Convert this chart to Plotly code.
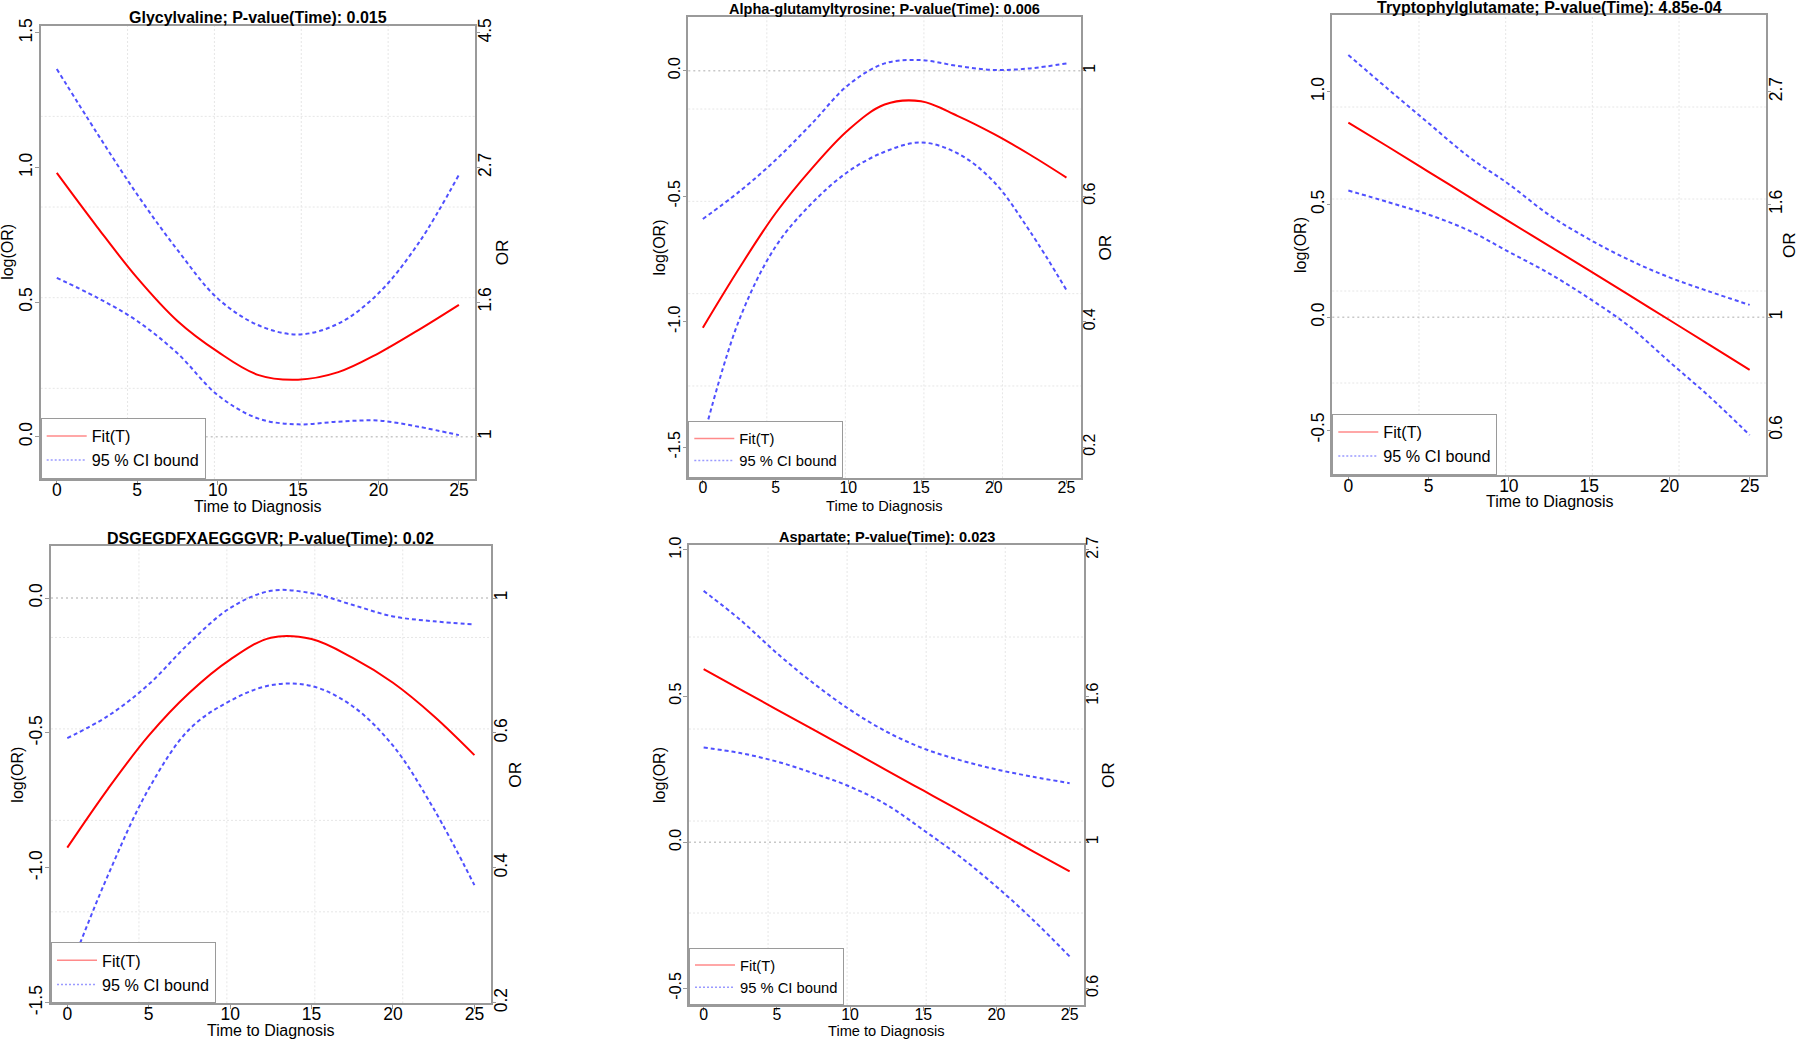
import plotly.graph_objects as go

W, H = 1800, 1047
FONT = "Liberation Sans, Arial, Helvetica, sans-serif"
GRAY = "#9a9a9a"
RED = "#ff0000"
BLUE = "rgb(80,80,255)"

# time grid shared by all curves
time_to_diagnosis = [0, 2.5, 5, 7.5, 10, 12.5, 15, 17.5, 20, 22.5, 25]
x_ticks = [0, 5, 10, 15, 20, 25]

titles = [
    "Glycylvaline; P-value(Time): 0.015",
    "Alpha-glutamyltyrosine; P-value(Time): 0.006",
    "Tryptophylglutamate; P-value(Time): 4.85e-04",
    "DSGEGDFXAEGGGVR; P-value(Time): 0.02",
    "Aspartate; P-value(Time): 0.023",
]

# log(OR) estimates
fit_glycylvaline = [0.98, 0.78, 0.59, 0.43, 0.316, 0.23, 0.212, 0.24, 0.31, 0.397, 0.49]
upper_glycylvaline = [1.366, 1.128, 0.90, 0.694, 0.514, 0.415, 0.38, 0.42, 0.533, 0.72, 0.973]
lower_glycylvaline = [0.59, 0.517, 0.43, 0.31, 0.155, 0.068, 0.046, 0.056, 0.06, 0.037, 0.006]

fit_glutamyltyrosine = [-1.024, -0.787, -0.568, -0.389, -0.236, -0.135, -0.122, -0.18, -0.252, -0.335, -0.426]
upper_glutamyltyrosine = [-0.591, -0.482, -0.356, -0.21, -0.057, 0.029, 0.042, 0.019, 0.003, 0.009, 0.029]
lower_glutamyltyrosine = [-1.47, -0.993, -0.701, -0.528, -0.402, -0.323, -0.286, -0.329, -0.442, -0.641, -0.874]

fit_tryptophylglutamate = [0.863, 0.755, 0.645, 0.535, 0.425, 0.317, 0.208, 0.098, -0.012, -0.122, -0.233]
upper_tryptophylglutamate = [1.163, 1.01, 0.86, 0.712, 0.59, 0.454, 0.346, 0.254, 0.177, 0.114, 0.055]
lower_tryptophylglutamate = [0.562, 0.51, 0.455, 0.385, 0.29, 0.195, 0.084, -0.04, -0.197, -0.352, -0.522]

fit_dsgegdfxaegggvr = [-0.925, -0.707, -0.510, -0.351, -0.228, -0.147, -0.152, -0.221, -0.314, -0.437, -0.582]
upper_dsgegdfxaegggvr = [-0.519, -0.437, -0.32, -0.166, -0.037, 0.027, 0.018, -0.025, -0.068, -0.086, -0.098]
lower_dsgegdfxaegggvr = [-1.40, -1.027, -0.707, -0.486, -0.381, -0.323, -0.326, -0.40, -0.547, -0.781, -1.064]

fit_aspartate = [0.592, 0.523, 0.454, 0.385, 0.316, 0.246, 0.177, 0.108, 0.039, -0.031, -0.100]
upper_aspartate = [0.86, 0.761, 0.647, 0.544, 0.453, 0.378, 0.321, 0.281, 0.249, 0.224, 0.202]
lower_aspartate = [0.324, 0.305, 0.276, 0.236, 0.19, 0.128, 0.042, -0.049, -0.152, -0.266, -0.391]

# y ticks (log OR) and matching OR labels on the right axis
logor_ticks_pos = [0, 0.5, 1.0, 1.5]
logor_labels_pos = ["0.0", "0.5", "1.0", "1.5"]
or_labels_pos = ["1", "1.6", "2.7", "4.5"]
logor_ticks_neg = [-1.5, -1.0, -0.5, 0]
logor_labels_neg = ["-1.5", "-1.0", "-0.5", "0.0"]
or_labels_neg = ["0.2", "0.4", "0.6", "1"]
logor_ticks_mid = [-0.5, 0, 0.5, 1.0]
logor_labels_mid = ["-0.5", "0.0", "0.5", "1.0"]
or_labels_mid = ["0.6", "1", "1.6", "2.7"]

# box = plot frame in px (left, top, right, bottom); ty = title centre y;
# lx / rx = centres of log(OR) / OR titles, bx = centre y of x title
panels = [
    dict(fit=fit_glycylvaline, up=upper_glycylvaline, lo=lower_glycylvaline,
         ticks=logor_ticks_pos, labels=logor_labels_pos, orl=or_labels_pos,
         box=(40.7, 25.7, 475, 479), yr=[-0.157, 1.527], s=1.0, ty=17,
         lx=7.5, rx=502, bx=507),
    dict(fit=fit_glutamyltyrosine, up=upper_glutamyltyrosine, lo=lower_glutamyltyrosine,
         ticks=logor_ticks_neg, labels=logor_labels_neg, orl=or_labels_neg,
         box=(688.3, 16.7, 1081, 478.3), yr=[-1.624, 0.215], s=0.91, ty=9,
         lx=659, rx=1105, bx=506),
    dict(fit=fit_tryptophylglutamate, up=upper_tryptophylglutamate, lo=lower_tryptophylglutamate,
         ticks=logor_ticks_mid, labels=logor_labels_mid, orl=or_labels_mid,
         box=(1332.3, 15, 1765.7, 475), yr=[-0.699, 1.340], s=1.0, ty=7.3,
         lx=1300, rx=1789, bx=501.7),
    dict(fit=fit_dsgegdfxaegggvr, up=upper_dsgegdfxaegggvr, lo=lower_dsgegdfxaegggvr,
         ticks=logor_ticks_neg, labels=logor_labels_neg, orl=or_labels_neg,
         box=(51, 546, 490.7, 1003.3), yr=[-1.502, 0.193], s=1.0, ty=538.3,
         lx=18, rx=515, bx=1030.7),
    dict(fit=fit_aspartate, up=upper_aspartate, lo=lower_aspartate,
         ticks=logor_ticks_mid, labels=logor_labels_mid, orl=or_labels_mid,
         box=(689, 545, 1084.3, 1005), yr=[-0.557, 1.017], s=0.91, ty=537,
         lx=659, rx=1108, bx=1030.7),
]

fig = go.Figure()
layout = dict(width=W, height=H, margin=dict(l=0, r=0, t=0, b=0),
              paper_bgcolor="white", plot_bgcolor="white",
              font=dict(family=FONT, color="black"),
              shapes=[], annotations=[])

for i, p in enumerate(panels):
    n = i + 1
    xa = "x" if n == 1 else f"x{n}"
    yl = "y" if n == 1 else f"y{2 * n - 1}"
    yr = f"y{2 * n}"
    leg = "legend" if n == 1 else f"legend{n}"
    s = p["s"]
    x0, y0, x1, y1 = p["box"]
    dx = [x0 / W, x1 / W]
    dy = [1 - y1 / H, 1 - y0 / H]
    ymid = 1 - (y0 + y1) / 2 / H

    fig.add_trace(go.Scatter(x=time_to_diagnosis, y=p["fit"], xaxis=xa, yaxis=yl,
                             name="Fit(T)", mode="lines", showlegend=False,
                             line=dict(color=RED, width=2, shape="spline")))
    for ci in (p["up"], p["lo"]):
        fig.add_trace(go.Scatter(x=time_to_diagnosis, y=ci, xaxis=xa, yaxis=yl,
                                 name="95 % CI bound", mode="lines", showlegend=False,
                                 line=dict(color=BLUE, width=2, dash="4px,3px", shape="spline")))
    # legend keys (thin, light, like the R legend)
    fig.add_trace(go.Scatter(x=[None], y=[None], xaxis=xa, yaxis=yl, legend=leg,
                             name="Fit(T)", mode="lines",
                             line=dict(color="#ff8a8a", width=1.5)))
    fig.add_trace(go.Scatter(x=[None], y=[None], xaxis=xa, yaxis=yl, legend=leg,
                             name="95 % CI bound", mode="lines",
                             line=dict(color="#9a9aff", width=1.5, dash="2px,2px")))
    # carrier for the OR axis
    fig.add_trace(go.Scatter(x=time_to_diagnosis, y=p["fit"], xaxis=xa, yaxis=yr, mode="lines",
                             opacity=0, showlegend=False, hoverinfo="skip"))

    tick_font = dict(family=FONT, size=17.5 * s, color="black")

    layout["xaxis" + ("" if n == 1 else str(n))] = dict(
        domain=dx, anchor=yl, range=[-1, 26], tickvals=x_ticks,
        ticks="outside", ticklen=4, tickcolor=GRAY, tickfont=tick_font, ticklabelstandoff=-10,
        showline=True, mirror=True, linecolor=GRAY, linewidth=1.5,
        showgrid=False, zeroline=False, automargin=False)
    layout["yaxis" + ("" if n == 1 else str(2 * n - 1))] = dict(
        domain=dy, anchor=xa, range=p["yr"], tickvals=p["ticks"], ticktext=p["labels"],
        tickangle=-90, ticks="outside", ticklen=4, tickcolor=GRAY, tickfont=tick_font,
        ticklabelstandoff=-4,
        showline=True, mirror=True, linecolor=GRAY, linewidth=1.5,
        showgrid=False, zeroline=False, automargin=False)
    layout["yaxis" + str(2 * n)] = dict(
        overlaying=yl, side="right", anchor=xa, range=p["yr"],
        tickvals=p["ticks"], ticktext=p["orl"],
        tickangle=-90, ticks="outside", ticklen=4, tickcolor=GRAY, tickfont=tick_font,
        ticklabelstandoff=-10,
        showline=False, showgrid=False, zeroline=False, automargin=False)

    # R-style grid: equal divisions of the plotting region
    for k in range(1, 5):
        layout["shapes"].append(dict(type="line", layer="below", xref=f"{xa} domain", yref=f"{yl} domain",
                                     x0=k / 5, x1=k / 5, y0=0, y1=1,
                                     line=dict(color="#e6e6e6", width=1, dash="2px,2px")))
        layout["shapes"].append(dict(type="line", layer="below", xref=f"{xa} domain", yref=f"{yl} domain",
                                     x0=0, x1=1, y0=k / 5, y1=k / 5,
                                     line=dict(color="#e6e6e6", width=1, dash="2px,2px")))
    # reference line at OR = 1
    layout["shapes"].append(dict(type="line", layer="below", xref=f"{xa} domain", yref=yl,
                                 x0=0, x1=1, y0=0, y1=0,
                                 line=dict(color="#c8c8c8", width=1.5, dash="2px,3px")))

    xc = (dx[0] + dx[1]) / 2
    layout["annotations"] += [
        dict(text=titles[i], xref="paper", yref="paper", x=xc, y=1 - p["ty"] / H,
             xanchor="center", yanchor="middle", showarrow=False,
             font=dict(family=FONT, size=16 * s, color="black", weight="bold")),
        dict(text="Time to Diagnosis", xref="paper", yref="paper", x=xc, y=1 - p["bx"] / H,
             xanchor="center", yanchor="middle", showarrow=False,
             font=dict(family=FONT, size=16 * (1 if s == 1 else 0.915), color="black")),
        dict(text="log(OR)", xref="paper", yref="paper", x=p["lx"] / W, y=ymid, textangle=-90,
             xanchor="center", yanchor="middle", showarrow=False,
             font=dict(family=FONT, size=16, color="black")),
        dict(text="OR", xref="paper", yref="paper", x=p["rx"] / W, y=ymid, textangle=-90,
             xanchor="center", yanchor="middle", showarrow=False,
             font=dict(family=FONT, size=17.2, color="black")),
    ]

    layout[leg] = dict(x=dx[0], y=dy[0], xanchor="left", yanchor="bottom",
                       bgcolor="white", bordercolor=GRAY, borderwidth=1,
                       font=dict(family=FONT, size=16.2 * s, color="black"),
                       itemwidth=40, tracegroupgap=0)

fig.update_layout(**layout)
fig.write_html("out.html", post_script="document.body.style.margin='0';",
               config={"displayModeBar": False})
